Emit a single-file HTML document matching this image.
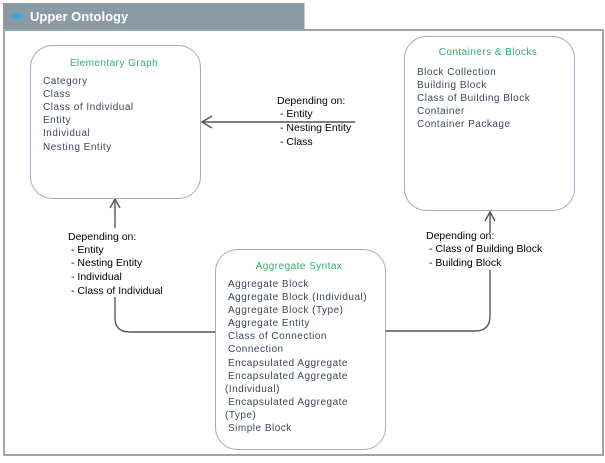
<!DOCTYPE html>
<html><head><style>
body{margin:0;width:605px;height:458px;background:#fff;overflow:hidden;font-family:"Liberation Sans",Arial,sans-serif}
</style></head><body>
<svg width="605" height="458" xmlns="http://www.w3.org/2000/svg" font-family="Liberation Sans, Arial, sans-serif">
<rect x="0" y="0" width="605" height="458" fill="#fff"/>
<rect x="3" y="3" width="302" height="28" fill="#8a9ba5"/>
<rect x="304" y="3" width="1" height="28" fill="#c8d0d4"/>
<rect x="4" y="30" width="599" height="425" fill="none" stroke="#9aa6ad" stroke-width="2"/>
<ellipse cx="16" cy="16" rx="6" ry="3.5" fill="#3fa6d6"/>
<text x="30" y="21" font-size="13" font-weight="bold" fill="#fff">Upper Ontology</text>

<g fill="none" stroke="#555" stroke-width="1.4">
<line x1="355" y1="122" x2="202" y2="122"/>
<polyline points="212,116 202,122 212,128"/>
<line x1="115" y1="228" x2="115" y2="199"/>
<polyline points="110,208 115,199 120,208"/>
<path d="M115,297 V318 Q115,332 130,332 H215"/>
<path d="M385,331 H475 Q490,331 490,316 V270"/>
<line x1="490" y1="233" x2="490" y2="212"/>
<polyline points="485,221 490,212 495,221"/>
</g>

<g fill="#fff" stroke="#a4b0b8" stroke-width="1">
<rect x="30.5" y="45.5" width="170" height="153" rx="22"/>
<rect x="404.5" y="36.5" width="170" height="174" rx="22"/>
<rect x="215.5" y="249.5" width="170" height="200" rx="22"/>
</g>

<g font-size="10" fill="#2cb36a" text-anchor="middle" letter-spacing="0.45">
<text x="114" y="66">Elementary Graph</text>
<text x="488" y="55">Containers &amp; Blocks</text>
<text x="299" y="269">Aggregate Syntax</text>
</g>
<g font-size="10" fill="#3a4a5e" letter-spacing="0.5">
<text x="43" y="84">Category</text>
<text x="43" y="97">Class</text>
<text x="43" y="110">Class of Individual</text>
<text x="43" y="123">Entity</text>
<text x="43" y="136">Individual</text>
<text x="43" y="150">Nesting Entity</text>
<text x="417" y="75">Block Collection</text>
<text x="417" y="88">Building Block</text>
<text x="417" y="101">Class of Building Block</text>
<text x="417" y="114">Container</text>
<text x="417" y="127">Container Package</text>
<text x="228" y="287">Aggregate Block</text>
<text x="228" y="300">Aggregate Block (Individual)</text>
<text x="228" y="313">Aggregate Block (Type)</text>
<text x="228" y="326">Aggregate Entity</text>
<text x="228" y="339">Class of Connection</text>
<text x="228" y="352">Connection</text>
<text x="228" y="366">Encapsulated Aggregate</text>
<text x="228" y="379">Encapsulated Aggregate</text>
<text x="225" y="392">(Individual)</text>
<text x="228" y="405">Encapsulated Aggregate</text>
<text x="225" y="418">(Type)</text>
<text x="228" y="431">Simple Block</text>
</g>
<g font-size="10.5" fill="#000">
<text x="277" y="104">Depending on:</text>
<text x="280" y="117">- Entity</text>
<text x="280" y="131">- Nesting Entity</text>
<text x="280" y="145">- Class</text>
<text x="68" y="240">Depending on:</text>
<text x="71" y="253">- Entity</text>
<text x="71" y="266">- Nesting Entity</text>
<text x="71" y="280">- Individual</text>
<text x="71" y="294">- Class of Individual</text>
<text x="426" y="239">Depending on:</text>
<text x="429" y="252">- Class of Building Block</text>
<text x="429" y="266">- Building Block</text>
</g>
</svg>
</body></html>
